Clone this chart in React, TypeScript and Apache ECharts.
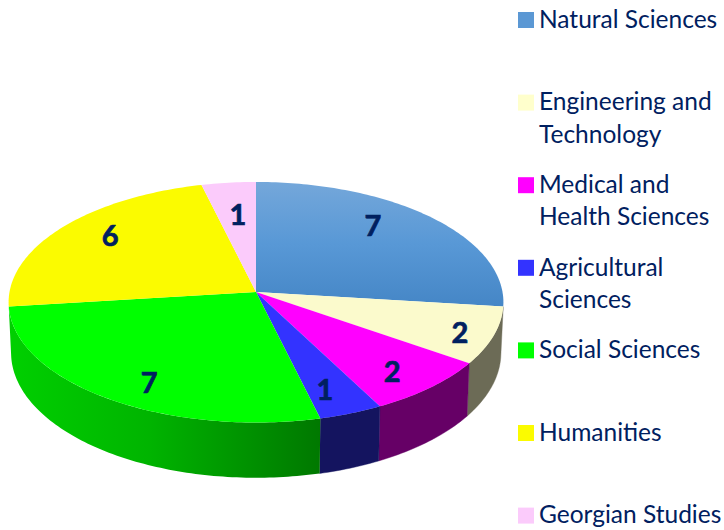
import React, { useEffect, useRef } from "react";
import * as echarts from "echarts";

const categories = [
  "Natural Sciences",
  "Engineering and\nTechnology",
  "Medical and\nHealth Sciences",
  "Agricultural\nSciences",
  "Social Sciences",
  "Humanities",
  "Georgian Studies",
];
const values = [7, 2, 2, 1, 7, 6, 1];
const topColors = ["#5a97d3", "#fbfacc", "#ff00ff", "#3333ff", "#00ff00", "#fbfb00", "#fbcbfb"];
const wallColors = ["#3a6a9a", "#6c6b56", "#660066", "#14145f", "#00a000", "#999900", "#998099"];
const labelAngles = [40.6, 112.5, 140.5, 161.2, 209.9, 308.4, 353.6];
const labelRadii = [0.765, 0.87, 0.821, 0.81, 0.817, 0.787, 0.696];

const TEXT = "#002060";
const FONT = "Lato, 'Noto Sans', sans-serif";
const CX = 256, CY = 292, RX = 246.5, RY = 119.4, K = 0.0853;
const WALL_SX = 0.99, WALL_SY = 1.04, WALL_DY = 50;
const WALL_FROM = 97, WALL_TO = 263;
const LEGEND_X = 518, LEGEND_TOP = 12, LEGEND_STEP = 82.6, SWATCH = 16;
const total = values.reduce((a, b) => a + b, 0);

function project(deg: number, r = 1): [number, number] {
  const t = (deg * Math.PI) / 180;
  const u = r * Math.sin(t);
  const v = -r * Math.cos(t);
  const w = 1 - K * v;
  return [CX + (RX * u) / w, CY + (RY * v) / w];
}
function toBottom(p: [number, number]): [number, number] {
  return [CX + WALL_SX * (p[0] - CX), CY + WALL_DY + WALL_SY * (p[1] - CY)];
}
function arc(a: number, b: number): [number, number][] {
  const pts: [number, number][] = [];
  const n = Math.max(2, Math.ceil(Math.abs(b - a)));
  for (let i = 0; i <= n; i++) pts.push(project(a + ((b - a) * i) / n));
  return pts;
}

function renderItem(params: any, api: any) {
  const i = params.dataIndex;
  let before = 0;
  for (let j = 0; j < i; j++) before += values[j];
  const a0 = (before / total) * 360;
  const a1 = ((before + api.value(0)) / total) * 360;
  const children: any[] = [];

  const wa = Math.max(a0, WALL_FROM);
  const wb = Math.min(a1, WALL_TO);
  if (wb > wa) {
    const top = arc(wa, wb);
    const bottom = top.map(toBottom).reverse();
    let wallFill: any = wallColors[i];
    if (i === 4) {
      wallFill = new echarts.graphic.LinearGradient(0, 0, 1, 0, [
        { offset: 0, color: "#00d000" },
        { offset: 0.45, color: "#00b400" },
        { offset: 1, color: "#007800" },
      ]);
    }
    children.push({
      type: "polygon",
      shape: { points: top.concat(bottom) },
      style: { fill: wallFill, stroke: i === 4 ? undefined : wallColors[i], lineWidth: 0.4 },
    });
  }

  let topFill: any = topColors[i];
  if (i === 0) {
    topFill = new echarts.graphic.LinearGradient(0, 0, 0, 1, [
      { offset: 0, color: "#74a7da" },
      { offset: 0.5, color: "#5898d6" },
      { offset: 1, color: "#4586c6" },
    ]);
  }
  children.push({
    type: "polygon",
    shape: { points: [[CX, CY] as [number, number]].concat(arc(a0, a1)) },
    style: { fill: topFill },
  });

  const [lx, ly] = project(labelAngles[i], labelRadii[i]);
  children.push({
    type: "text",
    z2: 10,
    style: {
      text: String(api.value(0)),
      x: lx,
      y: ly - 1,
      align: "center",
      verticalAlign: "middle",
      fill: TEXT,
      stroke: TEXT,
      lineWidth: 0.7,
      font: `bold 29px ${FONT}`,
    },
  });
  return { type: "group", children };
}

export default function App() {
  const ref = useRef<HTMLDivElement>(null);
  useEffect(() => {
    document.body.style.margin = "0";
    const chart = echarts.init(ref.current!, undefined, { renderer: "svg" });
    const legend: any[] = [];
    categories.forEach((name, i) => {
      const y = LEGEND_TOP + i * LEGEND_STEP;
      legend.push({
        type: "rect",
        shape: { x: LEGEND_X, y, width: SWATCH, height: SWATCH },
        style: { fill: i === 0 ? "#5b98d4" : i === 1 ? "#ffffcc" : topColors[i] },
      });
      legend.push({
        type: "text",
        x: 539,
        y: y - 10,
        style: {
          text: name,
          fill: TEXT,
          font: `24.5px ${FONT}`,
          lineHeight: 32.5,
          align: "left",
          verticalAlign: "top",
        },
      });
    });
    chart.setOption({
      animation: false,
      backgroundColor: "#ffffff",
      graphic: legend,
      series: [
        {
          type: "custom",
          coordinateSystem: "none",
          silent: true,
          renderItem,
          data: values.map((v, i) => ({ name: categories[i], value: [v] })),
        },
      ],
    });
    return () => chart.dispose();
  }, []);
  return <div ref={ref} style={{ width: 724, height: 530 }} />;
}
